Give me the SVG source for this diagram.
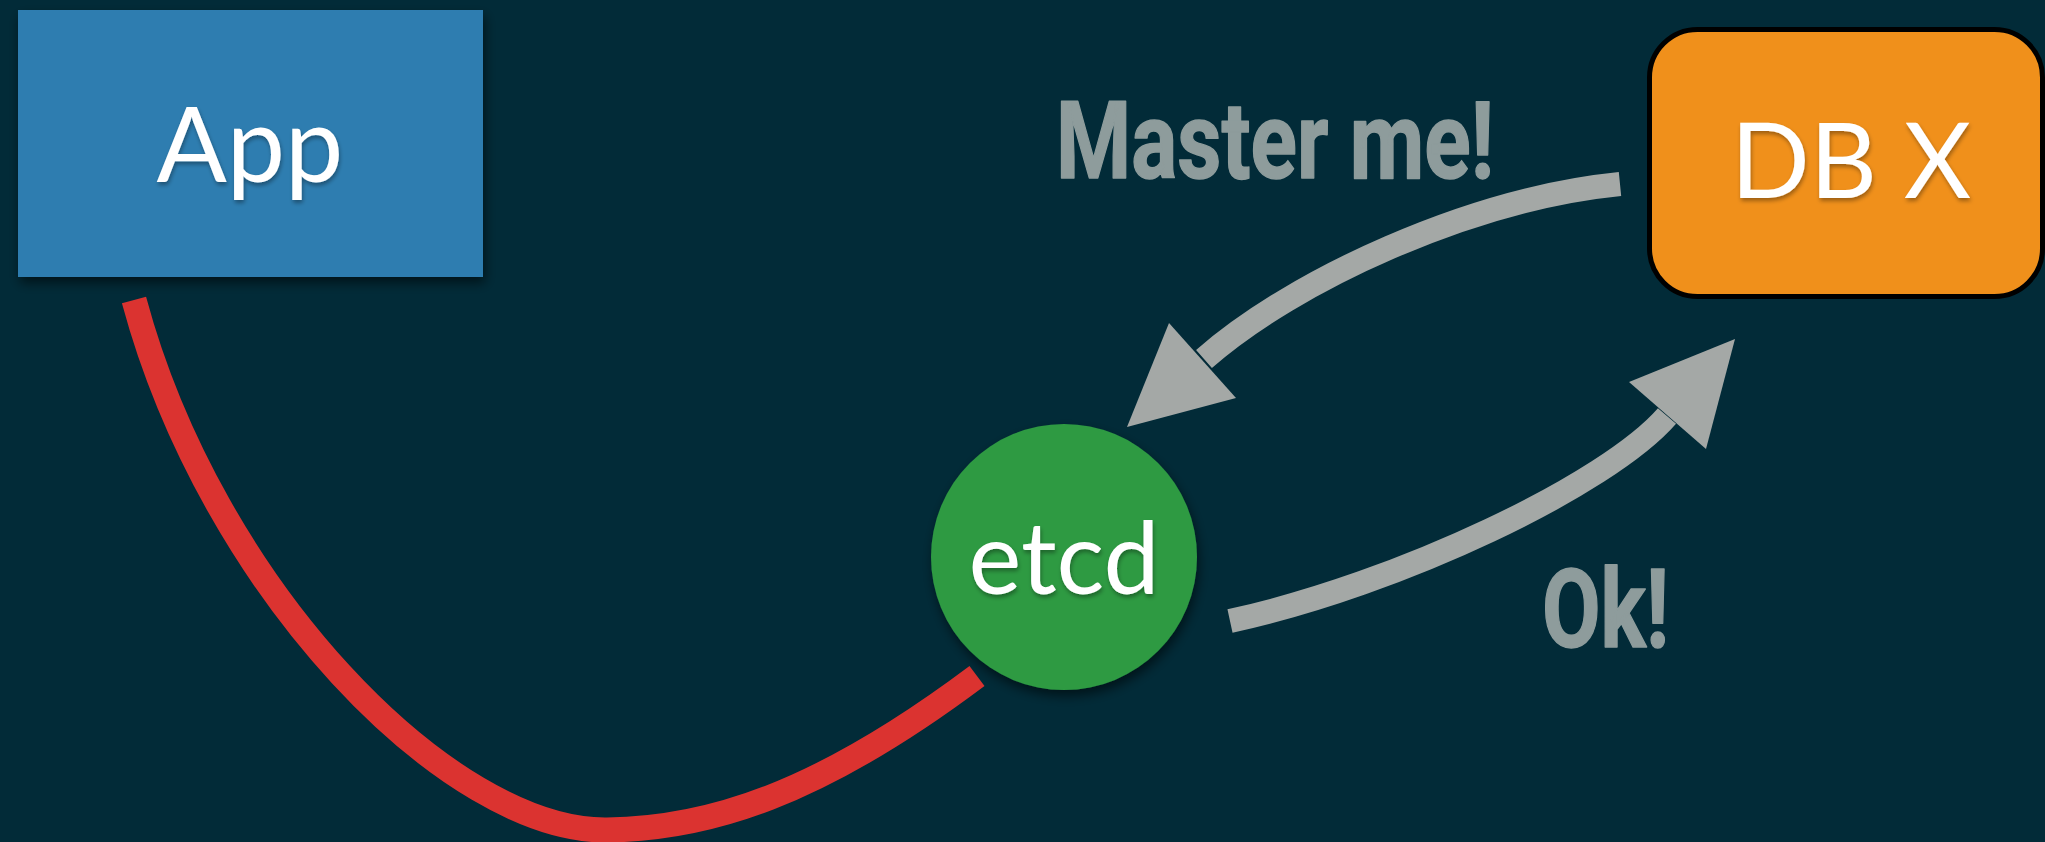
<svg xmlns="http://www.w3.org/2000/svg" width="2045" height="842" viewBox="0 0 2045 842">
<style>
.node-text{font-family:Lato,"Gill Sans","Open Sans",sans-serif;fill:#ffffff;text-anchor:middle;}
.label{font-family:"Liberation Sans Narrow","Roboto",sans-serif;font-weight:bold;fill:#8e9c9c;stroke:#8e9c9c;stroke-width:1.5;stroke-linejoin:round;}
.gray{fill:none;stroke:#a4a8a6;stroke-width:24;stroke-linecap:butt;}
.head{fill:#a4a8a6;}
.red{fill:none;stroke:#db3330;stroke-width:25;stroke-linecap:butt;}
</style>
<defs>
<filter id="boxShadow" x="-10%" y="-10%" width="125%" height="130%">
<feGaussianBlur in="SourceAlpha" stdDeviation="6"/>
<feOffset dx="2" dy="6" result="b"/>
<feComponentTransfer><feFuncA type="linear" slope="0.55"/></feComponentTransfer>
<feMerge><feMergeNode/><feMergeNode in="SourceGraphic"/></feMerge>
</filter>
<filter id="textShadow" x="-10%" y="-10%" width="125%" height="130%">
<feGaussianBlur in="SourceAlpha" stdDeviation="2"/>
<feOffset dx="1" dy="3" result="b"/>
<feComponentTransfer><feFuncA type="linear" slope="0.35"/></feComponentTransfer>
<feMerge><feMergeNode/><feMergeNode in="SourceGraphic"/></feMerge>
</filter>
</defs>
<rect x="0" y="0" width="2045" height="842" fill="#022b38"/>

<g id="connectors">
<path class="red" d="M134,300 C212,590 450,832 607,830 C707,829 817,796 977,676"/>
<path class="gray" d="M1620,184 C1470,199 1294,280 1204,359"/>
<polygon class="head" points="1127,427 1169,323 1236,398"/>
<path class="gray" d="M1230,621 C1400,584 1608,484 1667,416"/>
<polygon class="head" points="1735,339 1629,382 1706,449"/>
</g>

<g id="node-app">
<rect x="18" y="10" width="465" height="267" fill="#2e7db0" filter="url(#boxShadow)"/>
<text class="node-text" x="250" y="182" font-size="104" filter="url(#textShadow)">App</text>
</g>

<g id="node-dbx">
<rect x="1649.5" y="29.5" width="393" height="267" rx="48" ry="48" fill="#f0901b" stroke="#000000" stroke-width="5"/>
<text class="node-text" x="1851" y="198" font-size="104" filter="url(#textShadow)">DB X</text>
</g>

<g id="node-etcd">
<circle cx="1064" cy="557" r="133" fill="#2e9a42" filter="url(#boxShadow)"/>
<text class="node-text" x="1064" y="594" font-size="100" filter="url(#textShadow)">etcd</text>
</g>

<g id="labels">
<text class="label" x="1056" y="178" font-size="108" textLength="438" lengthAdjust="spacingAndGlyphs">Master me!</text>
<text class="label" x="1542" y="647" font-size="110" textLength="127" lengthAdjust="spacingAndGlyphs">Ok!</text>
</g>
</svg>
